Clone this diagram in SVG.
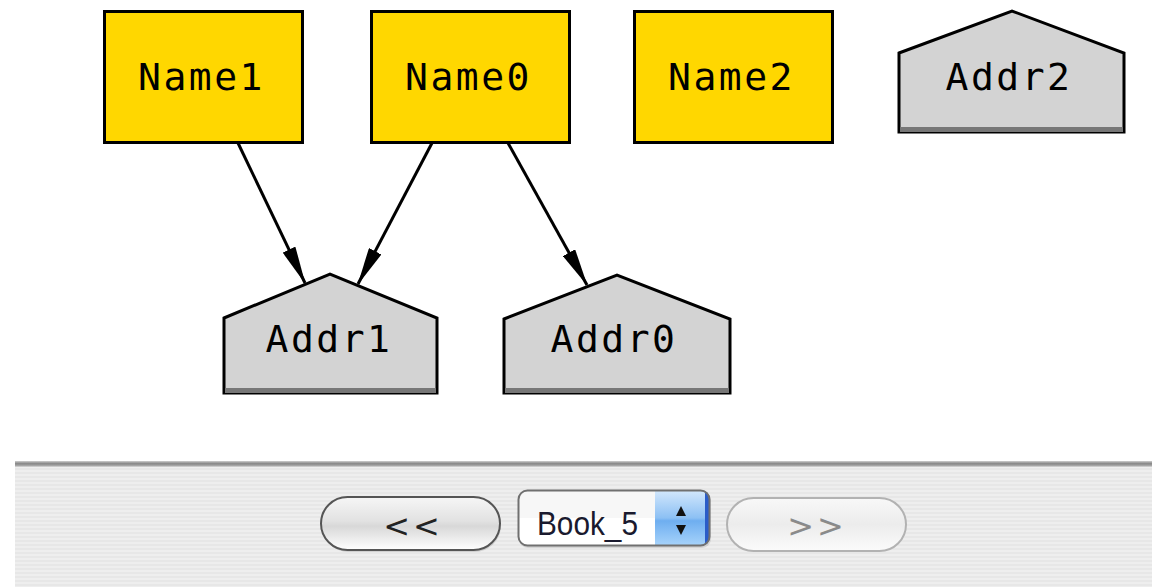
<svg xmlns="http://www.w3.org/2000/svg" width="1152" height="587" viewBox="0 0 1152 587">
  <defs>
    <style>
      .name rect { fill: #ffd700; stroke: #000; stroke-width: 3; }
      .addr polygon { fill: #d3d3d3; stroke: #000; stroke-width: 3; stroke-linejoin: miter; }
      .addr .shade { fill: #777; }
      .lbl { font-family: "DejaVu Sans Mono", "Liberation Mono", monospace; font-size: 38px; letter-spacing: 2.5px; fill: #000; text-anchor: middle; }
      .edge { stroke: #000; stroke-width: 3; fill: none; marker-end: url(#head); }
      .btn-text { font-family: "DejaVu Sans", "Liberation Sans", sans-serif; font-size: 32px; letter-spacing: 3px; text-anchor: middle; }
    </style>
    <marker id="head" markerUnits="userSpaceOnUse" viewBox="0 0 38 14" markerWidth="38" markerHeight="14" refX="37" refY="7" orient="auto">
      <path d="M0,0 L38,7 L0,14 z" fill="#000"/>
    </marker>
    <pattern id="stripes" width="8" height="4" patternUnits="userSpaceOnUse">
      <rect width="8" height="4" fill="#eeeeee"/>
      <rect width="8" height="2" fill="#e7e7e7"/>
    </pattern>
    <linearGradient id="aqua" x1="0" y1="0" x2="0" y2="1">
      <stop offset="0" stop-color="#f6f6f6"/>
      <stop offset="0.45" stop-color="#e2e2e2"/>
      <stop offset="0.55" stop-color="#d8d8d8"/>
      <stop offset="1" stop-color="#ffffff"/>
    </linearGradient>
    <linearGradient id="aquaOff" x1="0" y1="0" x2="0" y2="1">
      <stop offset="0" stop-color="#f8f8f8"/>
      <stop offset="0.5" stop-color="#ececec"/>
      <stop offset="1" stop-color="#fbfbfb"/>
    </linearGradient>
    <linearGradient id="blue" x1="0" y1="0" x2="0" y2="1">
      <stop offset="0" stop-color="#d4e8fc"/>
      <stop offset="0.5" stop-color="#8cc0f4"/>
      <stop offset="0.55" stop-color="#6eaef0"/>
      <stop offset="1" stop-color="#a8d4fb"/>
    </linearGradient>
    <linearGradient id="rule" x1="0" y1="0" x2="0" y2="1">
      <stop offset="0" stop-color="#cfcfcf"/>
      <stop offset="0.4" stop-color="#8a8a8a"/>
      <stop offset="0.7" stop-color="#9a9a9a"/>
      <stop offset="1" stop-color="#dcdcdc"/>
    </linearGradient>
    <clipPath id="popupClip">
      <rect x="518" y="490" width="192" height="56" rx="9"/>
    </clipPath>
  </defs>

  <rect width="1152" height="587" fill="#ffffff"/>

  <!-- connectors -->
  <g id="edges">
    <line class="edge" x1="238" y1="143" x2="305" y2="283"/>
    <line class="edge" x1="432" y1="143" x2="358" y2="284"/>
    <line class="edge" x1="508" y1="143" x2="587" y2="285"/>
  </g>

  <!-- name nodes -->
  <g id="Name1" class="name">
    <rect x="104.5" y="11.5" width="198" height="131"/>
    <text class="lbl" x="201.5" y="90">Name1</text>
  </g>
  <g id="Name0" class="name">
    <rect x="371.5" y="11.5" width="198" height="131"/>
    <text class="lbl" x="468.5" y="90">Name0</text>
  </g>
  <g id="Name2" class="name">
    <rect x="634.5" y="11.5" width="198" height="131"/>
    <text class="lbl" x="731.5" y="90">Name2</text>
  </g>

  <!-- address nodes -->
  <g id="Addr2" class="addr">
    <polygon points="899,53 1012,11 1124,53 1124,132 899,132"/>
    <rect class="shade" x="900" y="127" width="223" height="5"/>
    <text class="lbl" x="1009" y="90">Addr2</text>
  </g>
  <g id="Addr1" class="addr">
    <polygon points="224,318 330,274 437,318 437,393 224,393"/>
    <rect class="shade" x="225" y="388" width="211" height="5"/>
    <text class="lbl" x="329" y="352">Addr1</text>
  </g>
  <g id="Addr0" class="addr">
    <polygon points="504,319 617,275 730,319 730,393 504,393"/>
    <rect class="shade" x="505" y="388" width="224" height="5"/>
    <text class="lbl" x="614" y="352">Addr0</text>
  </g>

  <!-- control bar -->
  <g id="toolbar">
    <rect x="15" y="462" width="1137" height="125" fill="url(#stripes)"/>
    <rect x="15" y="461" width="1137" height="6" fill="url(#rule)"/>

    <g id="prev">
      <rect x="322" y="499" width="179" height="53" rx="26.5" fill="#000" opacity="0.12"/>
      <rect x="321" y="497" width="179" height="53" rx="26.5" fill="url(#aqua)" stroke="#555" stroke-width="2"/>
      <text class="btn-text" x="413" y="537" fill="#222">&lt;&lt;</text>
    </g>

    <g id="selector">
      <rect x="519" y="492" width="192" height="56" rx="9" fill="#000" opacity="0.1"/>
      <g clip-path="url(#popupClip)">
        <rect x="518" y="490" width="192" height="56" fill="#ffffff"/>
        <rect x="518" y="490" width="137" height="28" fill="#f7f7f7"/>
        <rect x="655" y="490" width="55" height="56" fill="url(#blue)"/>
        <rect x="705" y="490" width="5" height="56" fill="#2a5cc8"/>
      </g>
      <rect x="518.5" y="490.5" width="191" height="55" rx="9" fill="none" stroke="#707070" stroke-width="2"/>
      <text x="537" y="535" font-family="Liberation Sans, Arial, sans-serif" font-size="33" fill="#1a1a2e" textLength="101" lengthAdjust="spacingAndGlyphs">Book_5</text>
      <polygon points="681,506 686,516 676,516" fill="#111"/>
      <polygon points="676,525 686,525 681,535" fill="#111"/>
    </g>

    <g id="next">
      <rect x="727" y="498" width="179" height="53" rx="26.5" fill="url(#aquaOff)" stroke="#b2b2b2" stroke-width="2"/>
      <text class="btn-text" x="817" y="537" fill="#8a8a8a">&gt;&gt;</text>
    </g>
  </g>
</svg>
